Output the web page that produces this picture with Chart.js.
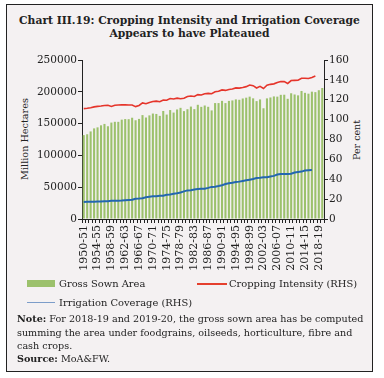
<!DOCTYPE html>
<html><head><meta charset="utf-8">
<script src="https://cdn.jsdelivr.net/npm/chart.js@4.4.0/dist/chart.umd.min.js"></script>
<style>
html,body{margin:0;padding:0;background:#fff;width:384px;height:378px;overflow:hidden;}
#frame{position:absolute;left:6px;top:4px;width:365px;height:366px;border:1px solid #222;background:#F4F1F2;}
.t{position:absolute;white-space:nowrap;font-family:'DejaVu Serif',serif;color:#222;line-height:1;}
.b{font-weight:bold;}
#wrap{position:absolute;left:0;top:50px;width:384px;height:240px;}
.sw{position:absolute;}
</style></head>
<body>
<div id="frame"></div>
<div class="t b" id="ti1" style="left:6px;width:367px;text-align:center;top:16px;font-size:10px;">Chart III.19: Cropping Intensity and Irrigation Coverage</div>
<div class="t b" id="ti2" style="left:6px;width:367px;text-align:center;top:28.5px;font-size:10px;">Appears to have Plateaued</div>
<div class="t" id="ylt" style="left:25px;top:139px;font-size:10.5px;transform:translate(-50%,-50%) rotate(-90deg);">Million Hectares</div>
<div class="t" id="yrt" style="left:357px;top:140px;font-size:10.5px;transform:translate(-50%,-50%) rotate(-90deg);">Per cent</div>
<div id="wrap"><canvas id="c"></canvas></div>
<div class="sw" style="left:27px;top:280px;width:28px;height:7px;background:#9CC16C;"></div>
<div class="t" id="lg1" style="left:59px;top:278.5px;font-size:10px;">Gross Sown Area</div>
<div class="sw" style="left:197px;top:282.5px;width:30px;height:2px;background:#E5402E;"></div>
<div class="t" id="lg2" style="left:229px;top:278.5px;font-size:10px;">Cropping Intensity (RHS)</div>
<div class="sw" style="left:27px;top:301.5px;width:28px;height:1.5px;background:#7C9DC9;"></div>
<div class="t" id="lg3" style="left:59px;top:297.5px;font-size:10px;">Irrigation Coverage (RHS)</div>
<div class="t" id="n1" style="left:17px;top:314px;font-size:9.5px;"><span class="b">Note:</span> For 2018-19 and 2019-20, the gross sown area has be computed</div>
<div class="t" id="n2" style="left:17px;top:328px;font-size:9.5px;">summing the area under foodgrains, oilseeds, horticulture, fibre and</div>
<div class="t" id="n3" style="left:17px;top:341px;font-size:9.5px;">cash crops.</div>
<div class="t" id="n4" style="left:17px;top:354px;font-size:9.5px;"><span class="b">Source:</span> MoA&amp;FW.</div>
<script>
const years = ['1950-51','1951-52','1952-53','1953-54','1954-55','1955-56','1956-57','1957-58','1958-59','1959-60',
'1960-61','1961-62','1962-63','1963-64','1964-65','1965-66','1966-67','1967-68','1968-69','1969-70',
'1970-71','1971-72','1972-73','1973-74','1974-75','1975-76','1976-77','1977-78','1978-79','1979-80',
'1980-81','1981-82','1982-83','1983-84','1984-85','1985-86','1986-87','1987-88','1988-89','1989-90',
'1990-91','1991-92','1992-93','1993-94','1994-95','1995-96','1996-97','1997-98','1998-99','1999-00',
'2000-01','2001-02','2002-03','2003-04','2004-05','2005-06','2006-07','2007-08','2008-09','2009-10',
'2010-11','2011-12','2012-13','2013-14','2014-15','2015-16','2016-17','2017-18','2018-19','2019-20'];
const tickLabels = ['1950-51','1954-55','1958-59','1962-63','1966-67','1970-71','1974-75','1978-79','1982-83',
'1986-87','1990-91','1994-95','1998-99','2002-03','2006-07','2010-11','2014-15','2018-19'];
const grossSownArea = [131893,133233,137675,142480,144094,147311,149492,145829,151629,152825,
152772,156210,157123,156955,159225,155276,157385,163365,159563,162943,
165791,165186,162150,169872,164212,171296,167339,172236,174787,169638,
172630,176751,172747,179565,176330,178464,176405,170742,182277,182270,
185742,182241,185699,186417,188053,187471,189497,190758,192377,189740,
185340,188006,174103,189659,191102,192737,192380,195222,195396,188990,
197685,195790,194399,201327,198360,197054,200200,199500,202500,206000];
const croppingIntensity = [111.1,111.5,112.0,112.8,113.3,113.7,114.2,114.4,113.2,114.4,
114.7,114.8,114.9,114.7,114.7,113.1,114.3,116.8,116.0,117.3,
118.2,118.6,118.0,119.8,119.5,121.2,120.7,121.6,121.0,121.5,
123.3,123.7,123.3,125.2,124.8,126.0,126.4,126.0,128.0,128.6,
129.9,129.4,130.4,130.8,131.9,131.7,132.4,133.2,134.8,134.2,
131.8,133.5,131.3,134.6,135.5,136.0,137.4,138.4,138.2,136.4,
139.3,139.5,139.6,141.6,141.7,141.4,142.5,144.0,null,null];
const irrigationCoverage = [17.1,17.3,17.4,17.4,17.6,17.5,17.8,17.9,18.4,18.4,
18.4,18.6,18.9,19.1,19.3,20.4,20.6,20.9,21.9,22.4,
22.8,23.0,23.4,23.5,24.4,24.7,25.5,26.0,26.7,27.8,
28.8,29.0,29.7,30.1,30.5,30.4,31.3,32.3,32.5,33.2,
34.0,35.2,35.9,36.5,37.2,37.6,38.3,39.0,39.6,40.2,
41.2,41.4,42.0,42.0,42.8,43.4,44.8,45.2,45.3,45.2,
45.5,46.8,47.3,47.7,48.7,49.1,49.2,null,null,null];

function fit(id, target){
  const el=document.getElementById(id);
  const w=el.offsetWidth;
  const fs=parseFloat(getComputedStyle(el).fontSize);
  const n=fs*target/w; el.style.fontSize=n+'px'; return n;
}
function fitInline(id,target){
  const el=document.getElementById(id);
  const r=document.createRange(); r.selectNodeContents(el);
  const w=r.getBoundingClientRect().width;
  const fs=parseFloat(getComputedStyle(el).fontSize);
  return fs*target/w;
}
let s=fitInline('ti1',341); ['ti1','ti2'].forEach(i=>document.getElementById(i).style.fontSize=s+'px');
s=fit('lg2',128); ['lg1','lg3'].forEach(i=>document.getElementById(i).style.fontSize=s+'px');
s=fit('n1',346); ['n2','n3','n4'].forEach(i=>document.getElementById(i).style.fontSize=s+'px');
fit('ylt',82); fit('yrt',40);

const ink='#222';
const fam="'DejaVu Serif', serif";
new Chart(document.getElementById('c'),{
  data:{labels:years,datasets:[
    {type:'line',label:'Cropping Intensity (RHS)',data:croppingIntensity,yAxisID:'yR',borderColor:'#E5352B',borderWidth:1.6,pointRadius:0,tension:0,order:0},
    {type:'line',label:'Irrigation Coverage (RHS)',data:irrigationCoverage,yAxisID:'yR',borderColor:'#2366B0',borderWidth:2,pointRadius:0,tension:0,order:0},
    {type:'bar',label:'Gross Sown Area',data:grossSownArea,yAxisID:'yL',backgroundColor:'#9CC16C',barPercentage:1,categoryPercentage:0.6,order:1}
  ]},
  options:{
    responsive:true,maintainAspectRatio:false,devicePixelRatio:1,animation:false,
    layout:{padding:{top:10,left:0,right:0,bottom:0}},
    plugins:{legend:{display:false},tooltip:{enabled:false}},
    scales:{
      x:{type:'category',offset:true,
        ticks:{autoSkip:false,maxRotation:90,minRotation:90,padding:2,color:ink,font:{family:fam,size:11},
          callback:function(v,i){const l=years[i];return tickLabels.includes(l)?l:'';}},
        grid:{drawOnChartArea:false,drawTicks:true,tickLength:4,color:ink,offset:true},
        border:{display:true,color:ink,width:1},
        afterFit:function(sc){sc.height=71;}},
      yL:{position:'left',min:0,max:250000,
        ticks:{stepSize:50000,padding:1,color:ink,font:{family:fam,size:10.5},callback:v=>String(v)},
        grid:{drawOnChartArea:false,tickLength:4,color:ink},
        border:{display:true,color:ink,width:1},
        afterFit:function(sc){sc.width=82;}},
      yR:{position:'right',min:0,max:160,
        ticks:{stepSize:20,padding:1,color:ink,font:{family:fam,size:10.5},callback:v=>String(v)},
        grid:{drawOnChartArea:false,tickLength:4,color:ink},
        border:{display:true,color:ink,width:1},
        afterFit:function(sc){sc.width=60;}}
    }
  }
});
</script>
</body></html>
